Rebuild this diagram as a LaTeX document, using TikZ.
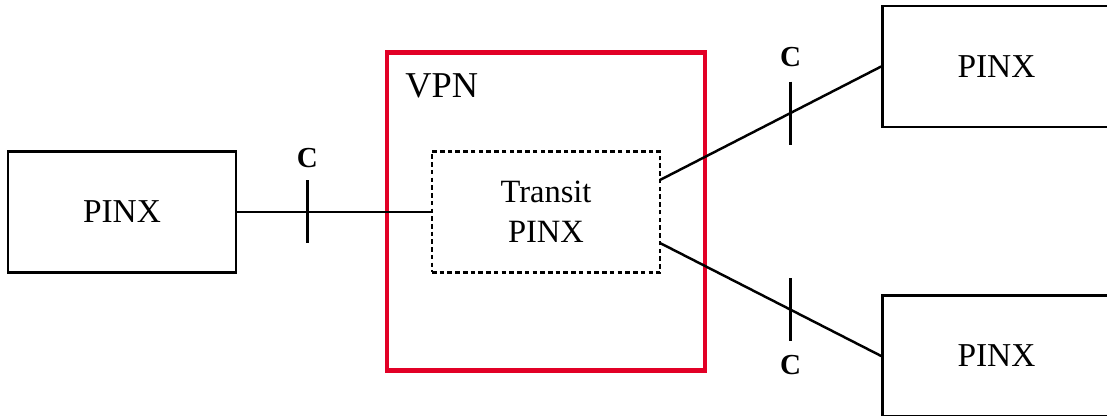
\documentclass[tikz,border=0pt]{standalone}
\usepackage{fontspec}
\setmainfont{Liberation Serif}
\definecolor{vpnred}{RGB}{226,0,38}
\tikzset{
  pinx/.style={rectangle, draw, line width=1.5pt, minimum width=4.56cm, minimum height=2.42cm, font=\fontsize{19}{23}\selectfont},
  transit/.style={rectangle, draw, dashed, dash pattern=on 2.6pt off 1.8pt, line width=1.3pt, minimum width=4.56cm, minimum height=2.42cm, align=center, font=\fontsize{18.5}{22.5}\selectfont},
  link/.style={line width=1.4pt},
  clabel/.style={font=\bfseries\fontsize{16.5}{20}\selectfont}
}
\begin{document}
\begin{tikzpicture}
    \useasboundingbox (0, 0) rectangle (22.14, -8.32);

    \node[draw=vpnred, line width=2.8pt, minimum width=6.36cm, minimum height=6.36cm] (vpn) at (10.92, -4.23) {};
    \node[anchor=base west, inner sep=0, font=\fontsize{20.7}{25}\selectfont] (vpnlabel) at (8.1, -1.96) {VPN};

    \node[pinx] (P1) at (2.44, -4.24) {PINX};
    \node[transit] (T) at (10.92, -4.24) {Transit\\PINX};
    \node[pinx] (P2) at (19.93, -1.33) {PINX};
    \node[pinx] (P3) at (19.93, -7.12) {PINX};

    % 線を引く
    \coordinate (t1) at (13.2, -3.6);
    \coordinate (t2) at (13.2, -4.86);
    \draw[link] (P1.east) -- coordinate[pos=0.362] (c1) (T.west);
    \draw[link] (t1) -- coordinate[pos=0.59] (c2) (P2.west);
    \draw[link] (t2) -- coordinate[pos=0.59] (c3) (P3.west);

    % 目盛り
    \draw[link] ([yshift=0.63cm]c1) -- ([yshift=-0.63cm]c1);
    \draw[link] ([yshift=0.63cm]c2) -- ([yshift=-0.63cm]c2);
    \draw[link] ([yshift=0.63cm]c3) -- ([yshift=-0.63cm]c3);

    % 値を入れる
    \node[clabel] (C1) at ([yshift=1.08cm]c1) {C};
    \node[clabel] (C2) at ([yshift=1.12cm]c2) {C};
    \node[clabel] (C3) at ([yshift=-1.1cm]c3) {C};
  \end{tikzpicture}
\end{document}
